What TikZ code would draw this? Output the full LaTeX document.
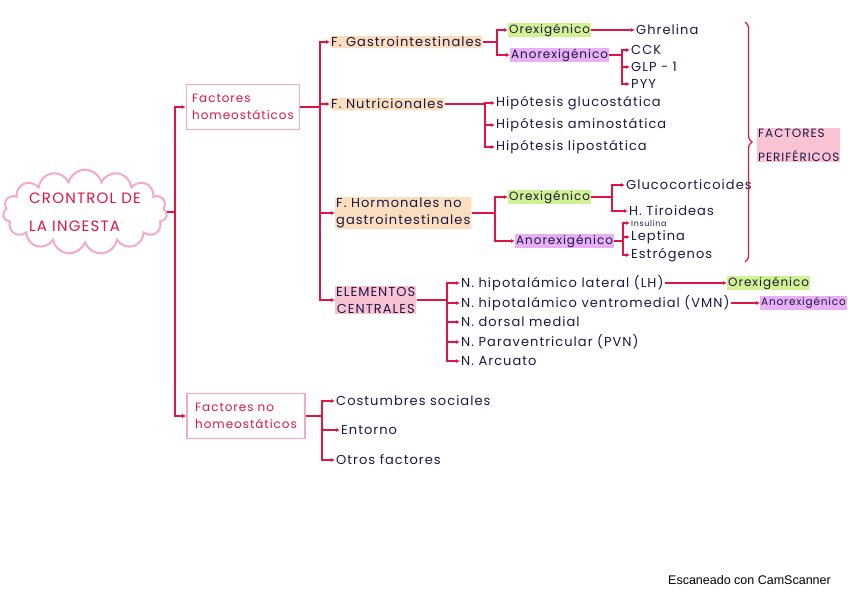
\documentclass[tikz,border=0pt]{standalone}
\usepackage{fontspec}
\setmainfont{Poppins}[LetterSpace=8]
\newfontfamily\scanfont{Liberation Sans}
\usetikzlibrary{arrows.meta}
\usetikzlibrary{shapes.symbols}
\usetikzlibrary{decorations.pathreplacing}
\definecolor{rd}{RGB}{225, 20, 70}
\definecolor{ink}{RGB}{25, 25, 70}
\definecolor{pk}{RGB}{245, 170, 195}
\definecolor{pch}{RGB}{250, 222, 190}
\definecolor{grn}{RGB}{210, 242, 145}
\definecolor{vio}{RGB}{232, 175, 245}
\definecolor{hl}{RGB}{250, 195, 212}

\begin{document}
\begin{tikzpicture}[x=1pt, y=-1pt,
    tx/.style={anchor=west, text=ink, inner sep=1pt, font=\fontsize{13}{17}\selectfont},
    hd/.style={tx, fill=pch, rounded corners=2pt},
    ox/.style={tx, fill=grn, font=\fontsize{12}{15}\selectfont},
    ax/.style={tx, fill=vio, font=\fontsize{12}{15}\selectfont},
    box/.style={draw=pk, line width=1.6pt, text=rd, align=left, inner sep=5pt,
        minimum height=45pt, font=\fontsize{12}{17}\selectfont},
    link/.style={draw=rd, line width=1.1pt, -{Latex[length=4pt, width=4pt]}}]
    \useasboundingbox (0,0) rectangle (848,599);

    % raiz
    \node[cloud, cloud puffs=15, aspect=2.6, draw=pk, line width=2pt, fill=white, inner sep=0pt,
        minimum width=164pt, minimum height=72pt, text=rd, align=left,
        font=\fontsize{15}{28}\selectfont] (ctrl) at (85,212) {CRONTROL DE\\LA INGESTA};

    \node[box, minimum width=113pt] (hom) at (243,107) {Factores\\homeostáticos};
    \node[box, minimum width=118pt] (nohom) at (246,416) {Factores no\\homeostáticos};

    % factores homeostaticos
    \node[hd] (gi) at (330,42) {F. Gastrointestinales};
    \node[hd] (nut) at (330,104) {F. Nutricionales};
    \node[hd, align=left] (hor) at (335,213) {F. Hormonales no\\gastrointestinales};
    \node[tx, fill=hl, align=center] (cen) at (335,300) {ELEMENTOS\\CENTRALES};

    \node[ox] (oxA) at (508,30) {Orexigénico};
    \node[ax] (anA) at (510,55) {Anorexigénico};
    \node[tx] (ghr) at (635,30) {Ghrelina};
    \node[tx] (cck) at (630,50) {CCK};
    \node[tx] (glp) at (630,67) {GLP - 1};
    \node[tx] (pyy) at (630,84) {PYY};

    \node[tx] (h1) at (495,103) {Hipótesis glucostática};
    \node[tx] (h2) at (495,125) {Hipótesis aminostática};
    \node[tx] (h3) at (495,147) {Hipótesis lipostática};

    \node[ox] (oxB) at (508,197) {Orexigénico};
    \node[ax] (anB) at (515,241) {Anorexigénico};
    \node[tx] (glu) at (625,185) {Glucocorticoides};
    \node[tx] (tir) at (628,211) {H. Tiroideas};
    \node[tx, font=\fontsize{8}{10}\selectfont] (ins) at (630,223) {Insulina};
    \node[tx] (lep) at (630,237) {Leptina};
    \node[tx] (est) at (630,255) {Estrógenos};

    \node[tx, fill=hl, align=left, font=\fontsize{12}{24}\selectfont] (per) at (757,145) {FACTORES\\PERIFÉRICOS};

    \node[tx] (n1) at (460,283) {N. hipotalámico lateral (LH)};
    \node[tx] (n2) at (460,303) {N. hipotalámico ventromedial (VMN)};
    \node[tx] (n3) at (460,322) {N. dorsal medial};
    \node[tx] (n4) at (460,342) {N. Paraventricular (PVN)};
    \node[tx] (n5) at (460,361) {N. Arcuato};
    \node[ox] (oxC) at (727,283) {Orexigénico};
    \node[ax, font=\fontsize{10.5}{12}\selectfont] (anC) at (760,303) {Anorexigénico};

    % factores no homeostaticos
    \node[tx] (cs) at (335,401) {Costumbres sociales};
    \node[tx] (ent) at (340,430) {Entorno};
    \node[tx] (otr) at (335,460) {Otros factores};

    \node[anchor=west, inner sep=0pt, font=\scanfont\fontsize{12.5}{14}\selectfont] (scan) at (668,580) {Escaneado con CamScanner};

    % x de cada corchete
    \coordinate (kr) at (175,0);
    \coordinate (kh) at (320,0);
    \coordinate (kgi) at (497,0);
    \coordinate (kan) at (622,0);
    \coordinate (knut) at (485,0);
    \coordinate (khor) at (495,0);
    \coordinate (kob) at (612,0);
    \coordinate (kab) at (623,0);
    \coordinate (kcen) at (447,0);
    \coordinate (knh) at (322,0);

    \draw[link] (ctrl.east) -| (kr |- hom.west) -- (hom.west);
    \draw[link] (ctrl.east) -| (kr |- nohom.west) -- (nohom.west);

    \foreach \c in {gi, nut, hor, cen}
        \draw[link] (hom.east) -| (kh |- \c.west) -- (\c.west);
    \foreach \c in {oxA, anA}
        \draw[link] (gi.east) -| (kgi |- \c.west) -- (\c.west);
    \draw[link] (oxA.east) -- (ghr.west);
    \foreach \c in {cck, glp, pyy}
        \draw[link] (anA.east) -| (kan |- \c.west) -- (\c.west);
    \foreach \c in {h1, h2, h3}
        \draw[link] (nut.east) -| (knut |- \c.west) -- (\c.west);
    \foreach \c in {oxB, anB}
        \draw[link] (hor.east) -| (khor |- \c.west) -- (\c.west);
    \foreach \c in {glu, tir}
        \draw[link] (oxB.east) -| (kob |- \c.west) -- (\c.west);
    \foreach \c in {ins, lep, est}
        \draw[link] (anB.east) -| (kab |- \c.west) -- (\c.west);
    \foreach \c in {n1, n2, n3, n4, n5}
        \draw[link] (cen.east) -| (kcen |- \c.west) -- (\c.west);
    \draw[link] (n1.east) -- (oxC.west);
    \draw[link] (n2.east) -- (anC.west);
    \foreach \c in {cs, ent, otr}
        \draw[link] (nohom.east) -| (knh |- \c.west) -- (\c.west);

    % llave
    \draw[rd, line width=1.2pt, decorate, decoration={brace, amplitude=7pt}] (745,22) -- (745,262);
\end{tikzpicture}
\end{document}
